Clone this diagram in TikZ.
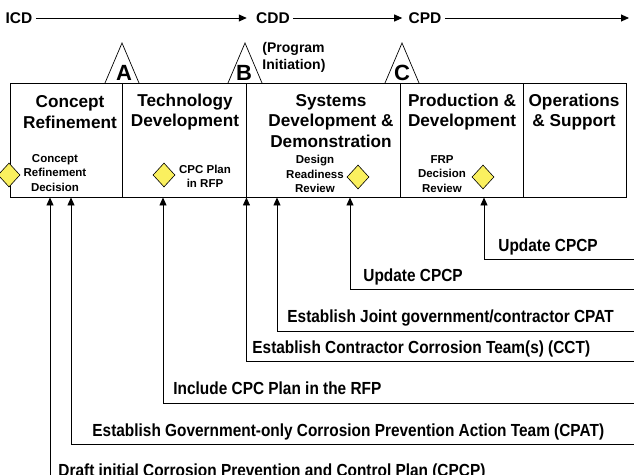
\documentclass[tikz,border=0pt]{standalone}
\usepackage{fontspec}
\setmainfont{Liberation Sans}
\newfontfamily\narrowsf[FakeStretch=0.88]{Liberation Sans}
\usetikzlibrary{arrows.meta,positioning,shapes.geometric}
\definecolor{msyellow}{RGB}{250,240,95}
\begin{document}
\begin{tikzpicture}[x=1pt,y=-1pt,>={Triangle[length=8pt,width=7pt]},line width=0.9pt]
\tikzstyle{phase}=[draw,inner sep=0,minimum height=114pt]
\tikzstyle{ttl}=[align=center,font=\fontsize{17.2}{20.8}\selectfont\bfseries]
\tikzstyle{sml}=[align=center,font=\fontsize{11.5}{14.2}\selectfont\bfseries]
\tikzstyle{ms}=[diamond,draw,fill=msyellow,inner sep=0,minimum width=22pt,minimum height=24pt,line width=0.6pt]
\tikzstyle{act}=[anchor=base west,inner sep=0,font=\narrowsf\fontsize{17.5}{21}\selectfont\bfseries]
\tikzstyle{dp}=[font=\fontsize{15.5}{18}\selectfont\bfseries,inner sep=3pt]
\tikzstyle{lt}=[font=\fontsize{22}{24}\selectfont\bfseries,inner sep=0]
\useasboundingbox (0,0) rectangle (634,474);
% decision points
\node[dp] (icd) at (19,18) {ICD}; \node[dp] (cdd) at (273,18) {CDD}; \node[dp] (cpd) at (425,18) {CPD};
\coordinate (tl) at (629,18);
\draw[->,shorten >=6pt] (icd) -- (cdd); \draw[->,shorten >=3pt] (cdd) -- (cpd); \draw[->] (cpd) -- (tl);
% phases
\node[phase,minimum width=112pt] (p1) at (66,140) {}; \node[phase,minimum width=124pt] (p2) at (184,140) {};
\node[phase,minimum width=154pt] (p3) at (323,140) {}; \node[phase,minimum width=123pt] (p4) at (461.5,140) {};
\node[phase,minimum width=103pt] (p5) at (574.5,140) {};
\node[ttl] (t1) at (70,112) {Concept\\Refinement}; \node[ttl] (t2) at (185,112) {Technology\\Development};
\node[ttl] (t3) at (331,121) {Systems\\Development \&\\Demonstration}; \node[ttl] (t4) at (462,112) {Production \&\\Development};
\node[ttl] (t5) at (574,112) {Operations\\\& Support};
% milestones
\draw[line width=0.7pt] (105,83) -- (122,43) -- (139,83); \draw[line width=0.7pt] (228,83) -- (245,43) -- (262,83);
\draw[line width=0.7pt] (385,83) -- (402,43) -- (419,83);
\node[lt] (ma) at (124,73) {A}; \node[lt] (mb) at (244,73) {B}; \node[lt] (mc) at (402,73) {C};
\node[align=left,anchor=west,inner sep=0,font=\fontsize{14}{17}\selectfont\bfseries] (pi) at (262,57) {(Program\\Initiation)};
% reviews
\node[ms] (d1) at (9,175) {}; \node[sml] (s1) at (55,173) {Concept\\Refinement\\Decision};
\node[ms] (d2) at (164,175) {}; \node[sml] (s2) at (205,176) {CPC Plan\\in RFP};
\node[ms] (d3) at (358,177) {}; \node[sml] (s3) at (315,174) {Design\\Readiness\\Review};
\node[ms] (d4) at (483,177) {}; \node[sml] (s4) at (442,174) {FRP\\Decision\\Review};
% activities
\node[act] (a1) at (498,251) {Update CPCP}; \node[act] (a2) at (363,281) {Update CPCP};
\node[act] (a3) at (287,322) {Establish Joint government/contractor CPAT};
\node[act] (a4) at (252,353) {Establish Contractor Corrosion Team(s) (CCT)};
\node[act] (a5) at (173,394) {Include CPC Plan in the RFP};
\node[act] (a6) at (92,436) {Establish Government-only Corrosion Prevention Action Team (CPAT)};
\node[act] (a7) at (58,476) {Draft initial Corrosion Prevention and Control Plan (CPCP)};
\coordinate (e1) at (640,259); \coordinate (e2) at (640,289); \coordinate (e3) at (640,331);
\coordinate (e4) at (640,361); \coordinate (e5) at (640,403); \coordinate (e6) at (640,444);
\coordinate (e7) at (50,490);
\draw[->] (e1) -| (p4.south -| 484,0); \draw[->] (e2) -| (p3.south -| 350,0);
\draw[->] (e3) -| (p3.south -| 277,0); \draw[->] (e4) -| (p2.south east);
\draw[->] (e5) -| (p2.south -| 163,0); \draw[->] (e6) -| (p1.south -| 71,0);
\draw[->] (e7) -- (p1.south -| 50,0);
\end{tikzpicture}
\end{document}
